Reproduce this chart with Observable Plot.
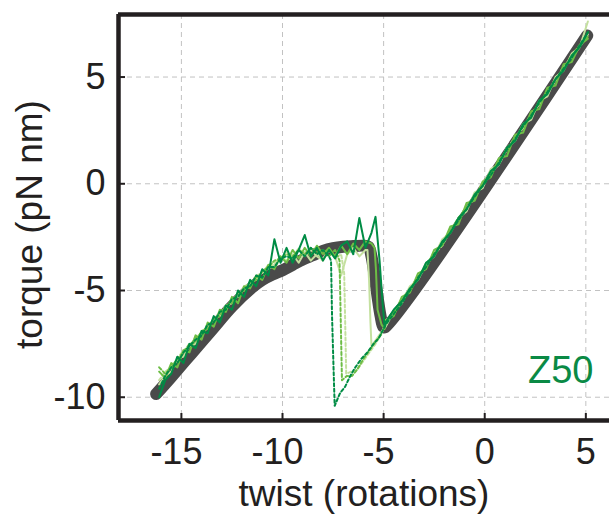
<!DOCTYPE html>
<html><head><meta charset="utf-8">
<script src="https://cdn.jsdelivr.net/npm/d3@7"></script>
<script src="https://cdn.jsdelivr.net/npm/@observablehq/plot@0.6"></script>
<style>body{margin:0;background:#fff} svg{display:block}</style>
</head><body><div id="chart"></div>
<script>
// axes
const xTicks = [-15, -10, -5, 0, 5];
const yTicks = [-10, -5, 0, 5];
const xDomain = [-18.11, 6.17];
const yDomain = [-11.09, 7.93];

// model (thick gray) curve
const modelTwist  = [-16.25,-15.5,-14.5,-13.5,-12.5,-11.5,-11,-10.5,-10,-9.5,-9,-8.5,-8,-7.5,-7,-6.5,-6,-5.75,-5.6,-5.45,-5.3,-5.15,-5.02,-4.92,5.07];
const modelTorque = [-9.85,-9.05,-7.95,-6.85,-5.75,-4.85,-4.5,-4.25,-4.05,-3.8,-3.55,-3.35,-3.15,-3.02,-2.95,-2.92,-2.9,-2.95,-3.4,-4.3,-5.3,-6.2,-6.7,-6.72,6.95];

// shared twist grids for the measured traces
const twistLeft  = [-16.1,-15.8,-15.5,-15.2,-14.9,-14.6,-14.3,-14.0,-13.7,-13.4,-13.1,-12.8,-12.5,-12.2,-11.9,-11.6,-11.3,-11.0,-10.7,-10.4,-10.1,-9.8,-9.5,-9.2,-8.9,-8.6,-8.3,-8.0,-7.7,-7.4,-7.1,-6.8,-6.5,-6.2,-5.9,-5.6];
const twistRight = [-4.9,-4.5,-4.1,-3.7,-3.3,-2.9,-2.5,-2.1,-1.7,-1.3,-0.9,-0.5,-0.1,0.3,0.7,1.1,1.5,1.9,2.3,2.7,3.1,3.5,3.9,4.3,4.7,5.1];

// dark green, solid
const darkSolidLeft  = [-10.0,-9.2,-8.9,-8.1,-8.4,-7.5,-7.7,-6.9,-7.0,-6.2,-6.5,-5.7,-5.9,-5.0,-5.3,-4.5,-4.8,-4.0,-4.3,-2.6,-3.7,-3.0,-3.7,-3.1,-2.4,-3.4,-3.0,-3.6,-3.1,-3.5,-2.9,-2.7,-3.3,-1.6,-3.0,-2.3];
const darkSolidDropX = [-5.4,-5.2,-5.05,-4.95];
const darkSolidDropY = [-1.55,-3.6,-5.6,-6.7];
const darkSolidRight = [-6.5,-5.9,-5.5,-4.9,-4.5,-3.7,-3.4,-2.7,-2.3,-1.6,-1.2,-0.5,-0.1,0.6,0.9,1.7,2.0,2.8,3.1,3.9,4.2,4.9,5.3,6.0,6.4,7.1];

// medium green, solid
const medSolidLeft  = [-8.8,-9.1,-8.4,-8.6,-7.8,-7.9,-7.1,-7.3,-6.5,-6.7,-5.9,-6.0,-5.3,-5.6,-4.8,-4.9,-4.3,-4.5,-3.8,-4.0,-3.4,-3.7,-3.1,-3.5,-3.0,-3.4,-2.9,-3.3,-3.0,-3.4,-2.9,-3.3,-2.8,-3.1,-2.7,-2.8];
const medSolidDropX = [-5.45,-5.38,-5.3,-5.1,-4.95];
const medSolidDropY = [-3.0,-4.0,-5.9,-6.6,-6.8];
const medSolidRight = [-6.4,-6.2,-5.3,-5.1,-4.2,-4.0,-3.1,-2.9,-2.0,-1.9,-0.9,-0.8,0.1,0.3,1.2,1.3,2.3,2.4,3.4,3.5,4.5,4.6,5.6,5.7,6.5,6.8];

// light green, solid
const lightSolidLeft  = [-9.4,-9.0,-8.8,-8.2,-8.1,-7.6,-7.5,-6.9,-6.8,-6.3,-6.2,-5.7,-5.6,-5.1,-5.0,-4.6,-4.5,-4.1,-3.9,-3.8,-3.4,-3.6,-3.3,-3.7,-3.2,-3.6,-3.3,-3.5,-3.1,-3.4,-4.3,-3.3,-3.0,-3.4,-3.1];
const lightSolidDropX = [-5.8,-5.72,-5.65,-5.6,-5.3,-5.0];
const lightSolidDropY = [-3.1,-4.5,-6.5,-7.6,-7.2,-6.8];
const lightSolidRight = [-6.7,-6.0,-5.6,-4.8,-4.5,-3.7,-3.4,-2.6,-2.3,-1.6,-1.3,-0.4,-0.2,0.7,0.9,1.7,2.0,2.8,3.0,3.9,4.1,5.0,5.3,6.1,6.4,7.6];

// dark green, dashed
const darkDashLeft  = [-9.6,-9.0,-8.6,-8.4,-7.9,-7.6,-7.3,-7.1,-6.6,-6.5,-6.0,-5.9,-5.4,-5.3,-4.9,-4.8,-4.3,-4.4,-3.9,-3.9,-3.5,-3.4,-3.5,-3.1,-3.4,-3.0,-3.3,-3.1,-3.4];
const darkDashDropX = [-7.6,-7.55,-7.48,-7.42,-7.15,-6.9,-6.65,-6.4,-6.1,-5.8,-5.5,-5.25,-5.0];
const darkDashDropY = [-3.6,-6.2,-8.5,-10.4,-9.8,-9.5,-9.0,-8.6,-8.2,-7.9,-7.5,-7.25,-6.8];
const darkDashRight = [-6.6,-6.1,-5.6,-5.0,-4.4,-3.9,-3.3,-2.8,-2.3,-1.7,-1.2,-0.6,-0.1,0.4,1.0,1.6,2.1,2.7,3.2,3.8,4.3,4.9,5.4,5.9,6.5,7.1];

// medium green, dashed
const medDashLeft  = [-8.6,-8.9,-8.6,-8.2,-7.9,-7.5,-7.4,-6.9,-6.8,-6.3,-6.2,-5.7,-5.6,-5.1,-5.0,-4.6,-4.5,-4.1,-3.9,-3.6,-3.5,-3.3,-3.4,-3.1,-3.3,-3.0,-3.2,-3.1,-3.4,-3.1];
const medDashDropX = [-7.18,-7.12,-7.06,-6.81,-6.56,-6.3,-6.0,-5.7,-5.4,-5.15,-4.95];
const medDashDropY = [-3.6,-6.4,-9.2,-9.0,-9.0,-8.7,-8.2,-7.8,-7.4,-7.1,-6.7];
const medDashRight = [-6.5,-6.0,-5.5,-5.0,-4.4,-3.8,-3.3,-2.8,-2.2,-1.6,-1.1,-0.6,0.0,0.5,1.1,1.6,2.1,2.7,3.2,3.8,4.3,4.9,5.4,6.0,6.5,6.9];

// light green, dashed
const lightDashLeft  = [-9.2,-8.8,-8.6,-8.2,-7.8,-7.6,-7.2,-7.0,-6.6,-6.4,-6.0,-5.9,-5.4,-5.3,-4.8,-4.7,-4.3,-4.2,-3.8,-3.7,-3.6,-3.2,-3.5,-3.0,-3.4,-3.1,-3.4,-3.6,-3.1,-3.5,-3.3];
const lightDashDropX = [-6.95,-6.9,-6.85,-6.6,-6.3,-6.0,-5.7,-5.4,-5.1,-4.95];
const lightDashDropY = [-4.2,-6.5,-8.9,-8.8,-8.7,-8.3,-7.9,-7.5,-7.0,-6.7];
const lightDashRight = [-6.4,-6.1,-5.4,-4.9,-4.5,-3.8,-3.3,-2.9,-2.2,-1.7,-1.1,-0.7,0.1,0.5,0.9,1.6,2.2,2.6,3.3,3.7,4.3,4.8,5.5,5.9,6.4,7.0];

const DARK = "#008c45", MED = "#6dbd45", LIGHT = "#c4e09f";

function build(left, dx, dy, right) {
  const rows = [];
  left.forEach((v, i) => rows.push({twist: twistLeft[i], torque: v}));
  dx.forEach((v, i) => rows.push({twist: v, torque: dy[i]}));
  right.forEach((v, i) => rows.push({twist: twistRight[i], torque: v}));
  return rows;
}
const traces = [
  {rows: build(lightDashLeft, lightDashDropX, lightDashDropY, lightDashRight), color: LIGHT, dash: "3,2.5"},
  {rows: build(lightSolidLeft, lightSolidDropX, lightSolidDropY, lightSolidRight), color: LIGHT, dash: null},
  {rows: build(medDashLeft, medDashDropX, medDashDropY, medDashRight), color: MED, dash: "3,2.5"},
  {rows: build(medSolidLeft, medSolidDropX, medSolidDropY, medSolidRight), color: MED, dash: null},
  {rows: build(darkDashLeft, darkDashDropX, darkDashDropY, darkDashRight), color: DARK, dash: "3,2.5"},
  {rows: build(darkSolidLeft, darkSolidDropX, darkSolidDropY, darkSolidRight), color: DARK, dash: null}
];
const model = modelTwist.map((t, i) => ({twist: t, torque: modelTorque[i]}));

const INK = "#231f20";
const W = 609, H = 514, ML = 118, MR = 0, MT = 14, MB = 94;
const plotW = W - ML - MR, plotH = H - MT - MB;
const FS = 36;

const chart = Plot.plot({
  width: W, height: H,
  marginLeft: ML, marginRight: MR, marginTop: MT, marginBottom: MB,
  style: {fontFamily: "'Liberation Sans', Arial, Helvetica, sans-serif", fontSize: FS + "px", color: INK, background: "#fff"},
  x: {domain: xDomain},
  y: {domain: yDomain},
  marks: [
    Plot.ruleX(xTicks, {stroke: "#c2c2c2", strokeWidth: 1, strokeDasharray: "5,4"}),
    Plot.ruleY(yTicks, {stroke: "#c2c2c2", strokeWidth: 1, strokeDasharray: "5,4"}),
    Plot.line(model, {x: "twist", y: "torque", stroke: "#4a4a4a", strokeWidth: 12, strokeLinecap: "round", strokeLinejoin: "round", curve: "catmull-rom"}),
    ...traces.map(t => Plot.line(t.rows, {x: "twist", y: "torque", stroke: t.color, strokeWidth: 2, strokeDasharray: t.dash, strokeLinejoin: "round"})),
    Plot.ruleY([yDomain[0], yDomain[1]], {stroke: INK, strokeWidth: 4.5}),
    Plot.ruleX([xDomain[0]], {stroke: INK, strokeWidth: 4.5, y1: yDomain[0], y2: yDomain[1]}),
    Plot.tickX(xTicks, {x: d => d, stroke: INK, strokeWidth: 2, insetTop: plotH - 7}),
    Plot.tickY(yTicks, {y: d => d, stroke: INK, strokeWidth: 2, insetRight: plotW - 7}),
    Plot.axisX(xTicks.filter(d => d < 0), {tickSize: 0, tickPadding: 18, dx: -5, fontSize: FS, label: null, tickFormat: d => String(d), fill: INK}),
    Plot.axisX(xTicks.filter(d => d >= 0), {tickSize: 0, tickPadding: 18, fontSize: FS, label: null, tickFormat: d => String(d), fill: INK}),
    Plot.axisY(yTicks, {tickSize: 0, tickPadding: 13, fontSize: FS, label: null, tickFormat: d => String(d), fill: INK}),
    Plot.text(["twist (rotations)"], {frameAnchor: "bottom", textAnchor: "middle", lineAnchor: "bottom", dy: 85, fontSize: 37, fill: INK}),
    Plot.text(["torque (pN nm)"], {frameAnchor: "left", textAnchor: "middle", lineAnchor: "middle", dx: -88, dy: 7, rotate: -90, fontSize: 37, fill: INK}),
    Plot.text(["Z50"], {frameAnchor: "bottom-right", textAnchor: "end", lineAnchor: "bottom", dx: -16, dy: -38, fontSize: 38, fill: "#0a8a45"})
  ]
});
document.getElementById("chart").appendChild(chart);
</script>
</body></html>
